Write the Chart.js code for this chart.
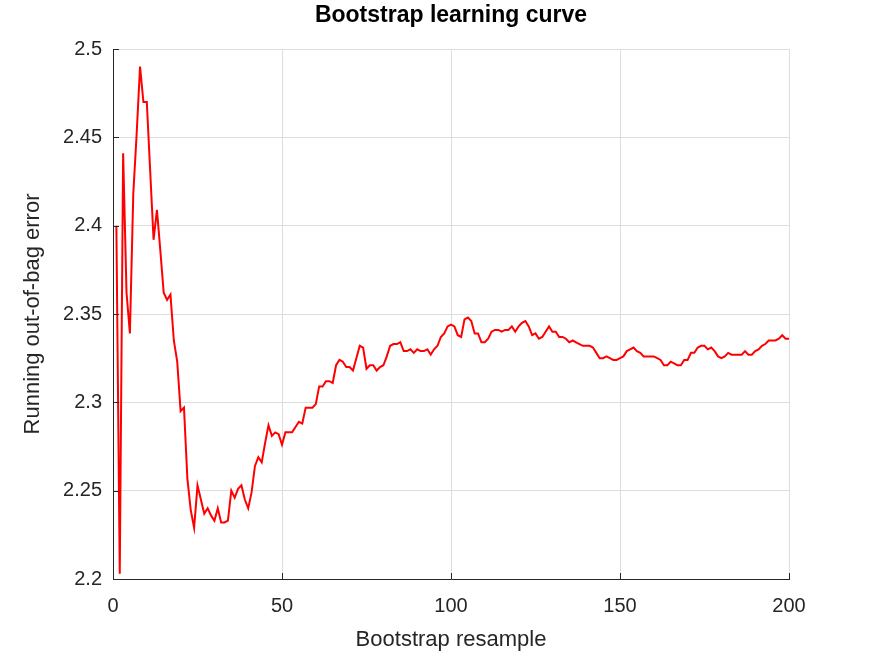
<!DOCTYPE html>
<html>
<head>
<meta charset="utf-8">
<title>Bootstrap learning curve</title>
<script src="https://cdn.jsdelivr.net/npm/chart.js@4.4.0/dist/chart.umd.min.js"></script>
<style>
    body { margin: 0; background: #fff; }
    canvas { display: block; }
</style>
</head>
<body>
<canvas id="oobChart" width="872" height="654"></canvas>
<script>
// running out-of-bag error after each bootstrap resample (1..200)
var oobError = [
    2.400, 2.203, 2.441, 2.362, 2.339, 2.418, 2.452, 2.490, 2.470, 2.470,
    2.431, 2.392, 2.409, 2.386, 2.362, 2.358, 2.361, 2.335, 2.323, 2.295,
    2.297, 2.257, 2.239, 2.229, 2.253, 2.245, 2.237, 2.240, 2.236, 2.233,
    2.240, 2.232, 2.232, 2.233, 2.250, 2.246, 2.251, 2.253, 2.245, 2.240,
    2.249, 2.264, 2.269, 2.266, 2.277, 2.287, 2.281, 2.283, 2.282, 2.276,
    2.283, 2.283, 2.283, 2.286, 2.289, 2.288, 2.297, 2.297, 2.297, 2.299,
    2.309, 2.309, 2.312, 2.312, 2.311, 2.321, 2.324, 2.323, 2.320, 2.320,
    2.318, 2.325, 2.332, 2.331, 2.319, 2.321, 2.321, 2.318, 2.320, 2.321,
    2.326, 2.332, 2.333, 2.333, 2.334, 2.329, 2.329, 2.330, 2.328, 2.330,
    2.329, 2.329, 2.330, 2.327, 2.330, 2.332, 2.337, 2.339, 2.343, 2.344,
    2.343, 2.338, 2.337, 2.347, 2.348, 2.346, 2.339, 2.339, 2.334, 2.334,
    2.336, 2.340, 2.341, 2.341, 2.340, 2.341, 2.341, 2.343, 2.340, 2.343,
    2.345, 2.346, 2.343, 2.338, 2.339, 2.336, 2.337, 2.340, 2.343, 2.340,
    2.340, 2.337, 2.337, 2.336, 2.334, 2.335, 2.334, 2.333, 2.332, 2.332,
    2.332, 2.331, 2.328, 2.325, 2.325, 2.326, 2.325, 2.324, 2.324, 2.325,
    2.326, 2.329, 2.330, 2.331, 2.329, 2.328, 2.326, 2.326, 2.326, 2.326,
    2.325, 2.324, 2.321, 2.321, 2.323, 2.322, 2.321, 2.321, 2.324, 2.324,
    2.328, 2.328, 2.331, 2.332, 2.332, 2.330, 2.331, 2.329, 2.326, 2.325,
    2.326, 2.328, 2.327, 2.327, 2.327, 2.327, 2.329, 2.327, 2.327, 2.329,
    2.330, 2.332, 2.333, 2.335, 2.335, 2.335, 2.336, 2.338, 2.336, 2.336
];

var xTicks = [0, 50, 100, 150, 200];
var yTicks = [2.2, 2.25, 2.3, 2.35, 2.4, 2.45, 2.5];
var chartTitle = 'Bootstrap learning curve';

var axisColor = '#262626';
var gridColor = '#dedede';
var fontFamily = '"Liberation Sans", Arial, Helvetica, sans-serif';

// points: resample number is just the position in the list
var points = oobError.map(function(v, i) { return { x: i + 1, y: v }; });

// Octave-style short ticks pointing into the plot, title centred over the axes
var octaveAxes = {
    id: 'octaveAxes',
    afterDatasetsDraw: function(chart) {
        var ctx = chart.ctx;
        var area = chart.chartArea;
        var xs = chart.scales.x, ys = chart.scales.y;
        var len = 6;
        ctx.save();
        ctx.strokeStyle = axisColor;
        ctx.lineWidth = 1;
        ctx.beginPath();
        yTicks.forEach(function(v) {
            var py = Math.round(ys.getPixelForValue(v)) + 0.5;
            ctx.moveTo(area.left, py);
            ctx.lineTo(area.left + len, py);
        });
        xTicks.forEach(function(v) {
            var px = Math.round(xs.getPixelForValue(v)) + 0.5;
            ctx.moveTo(px, area.bottom);
            ctx.lineTo(px, area.bottom - len);
        });
        ctx.stroke();

        ctx.fillStyle = '#000';
        ctx.font = 'bold 23px ' + fontFamily;
        ctx.textAlign = 'center';
        ctx.textBaseline = 'middle';
        ctx.fillText(chartTitle, (area.left + area.right) / 2, 16);
        ctx.restore();
    }
};

new Chart(document.getElementById('oobChart'), {
    type: 'line',
    data: {
        datasets: [{
            label: 'Running out-of-bag error',
            data: points,
            borderColor: '#ff0000',
            borderWidth: 2,
            pointRadius: 0,
            tension: 0,
            fill: false
        }]
    },
    options: {
        responsive: false,
        animation: false,
        layout: { padding: { left: 0, right: 83, top: 49, bottom: 0 } },
        plugins: {
            legend: { display: false },
            tooltip: { enabled: false },
            title: { display: false }
        },
        scales: {
            x: {
                type: 'linear',
                min: 0,
                max: 200,
                afterBuildTicks: function(scale) {
                    scale.ticks = xTicks.map(function(v) { return { value: v }; });
                },
                afterFit: function(scale) { scale.height = 75; },
                ticks: {
                    color: axisColor,
                    font: { family: fontFamily, size: 20 },
                    padding: 15,
                    maxRotation: 0
                },
                grid: { color: gridColor, drawTicks: false },
                border: { color: axisColor, width: 1 },
                title: {
                    display: true,
                    text: 'Bootstrap resample',
                    color: axisColor,
                    font: { family: fontFamily, size: 22 },
                    padding: { top: 0, bottom: 1 }
                }
            },
            y: {
                min: 2.2,
                max: 2.5,
                afterBuildTicks: function(scale) {
                    scale.ticks = yTicks.map(function(v) { return { value: v }; });
                },
                afterFit: function(scale) { scale.width = 113; },
                ticks: {
                    color: axisColor,
                    font: { family: fontFamily, size: 20 },
                    padding: 11,
                    callback: function(v) { return String(Number(v.toFixed(2))); }
                },
                grid: { color: gridColor, drawTicks: false },
                border: { color: axisColor, width: 1 },
                title: {
                    display: true,
                    text: 'Running out-of-bag error',
                    color: axisColor,
                    font: { family: fontFamily, size: 22 },
                    padding: { top: 20, bottom: 0 }
                }
            }
        }
    },
    plugins: [octaveAxes]
});
</script>
</body>
</html>
